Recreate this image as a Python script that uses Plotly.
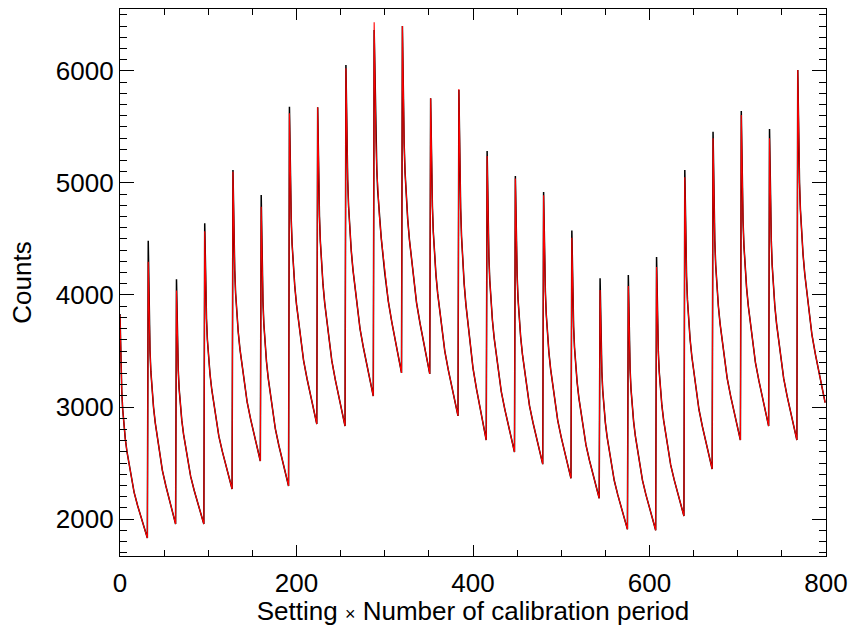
import plotly.graph_objects as go

# ---- data ----
CYCLE_START = [0, 32, 64, 96, 128, 160, 192, 224, 256, 288, 320, 352, 384,
               416, 448, 480, 512, 544, 576, 608, 640, 672, 704, 736, 768]
PEAK_BLACK = [3830, 4485, 4140, 4640, 5116, 4893, 5681, 5676, 6054, 6366, 6402, 5756, 5830,
              5286, 5062, 4920, 4575, 4149, 4179, 4339, 5116, 5458, 5643, 5482, 6009]
PEAK_RED = [3820, 4297, 4040, 4570, 5100, 4788, 5622, 5676, 6024, 6435, 6402, 5756, 5839,
            5241, 5040, 4890, 4510, 4045, 4080, 4250, 5050, 5399, 5607, 5399, 6009]
CYCLE_END = [1830, 1955, 1955, 2268, 2518, 2295, 2848, 2830, 3098, 3304, 3295, 2920, 2705,
             2598, 2490, 2363, 2185, 1908, 1900, 2027, 2446, 2705, 2830, 2705, 3040]
# offsets inside a cycle and the fraction of the peak-to-end drop still left there
OFFSETS = [0, 1, 2, 3, 4, 6, 8, 12, 16, 20, 24, 28, 31]
REMAIN = [1.0, 0.80, 0.66, 0.58, 0.52, 0.445, 0.385, 0.285, 0.205, 0.145, 0.095, 0.045, 0.0]

xs, y_red, y_black = [], [], []
for s, pb, pr, e in zip(CYCLE_START, PEAK_BLACK, PEAK_RED, CYCLE_END):
    for t, f in zip(OFFSETS, REMAIN):
        xs.append(s + t)
        y_red.append(e + f * (pr - e))
        y_black.append(pb if t == 0 else e + f * (pr - e))

FONT = "Liberation Sans, Arial, Helvetica, sans-serif"

fig = go.Figure()
fig.add_trace(go.Scatter(x=xs, y=y_black, mode="lines",
                         line=dict(color="black", width=1.5), showlegend=False))
fig.add_trace(go.Scatter(x=xs, y=y_red, mode="lines",
                         line=dict(color="red", width=1.1), showlegend=False))

axis_common = dict(showgrid=False, zeroline=False, showline=True, linecolor="black",
                   linewidth=1.3, mirror="allticks", ticks="inside", tickcolor="black",
                   tickwidth=1.3, automargin=False,
                   tickfont=dict(family=FONT, size=26, color="black"))

fig.update_layout(
    width=853, height=626,
    margin=dict(l=120, r=27, t=9, b=70),
    paper_bgcolor="white", plot_bgcolor="white",
    xaxis=dict(range=[0, 800], tickmode="linear", tick0=0, dtick=200, ticklen=11,
               minor=dict(ticks="inside", dtick=50, ticklen=5.5, tickcolor="black", tickwidth=1.3),
               title=dict(text="Setting <span style='font-size:18px'>×</span> Number of calibration period",
                          font=dict(family=FONT, size=26, color="black"), standoff=3),
               ticklabelstandoff=4,
               **axis_common),
    yaxis=dict(range=[1670, 6553], tickmode="linear", tick0=0, dtick=1000, ticklen=14,
               minor=dict(ticks="inside", dtick=100, ticklen=7, tickcolor="black", tickwidth=1.3),
               title=dict(text="Counts", font=dict(family=FONT, size=26, color="black"), standoff=16),
               ticklabelstandoff=0,
               **axis_common),
)

fig.write_html("out.html")
